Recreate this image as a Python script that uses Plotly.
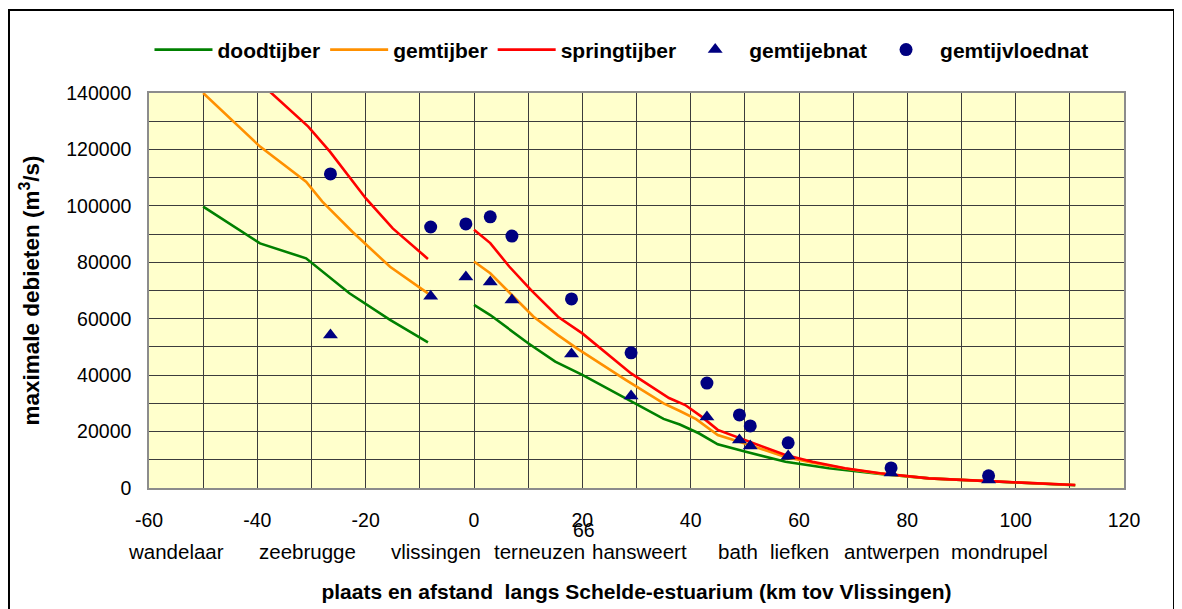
import plotly.graph_objects as go

# ---- data (km from Vlissingen, discharge m3/s)
dood_x = [-50, -39.5, -31, -23, -15.5, -8.5, None, 0, 3, 10, 15, 20, 29, 35, 38, 41.5, 45, 50, 57.5, 65.5, 75, 84, 97, 111]
dood_y = [99700, 86700, 81400, 69000, 59600, 51600, None, 64900, 61300, 51300, 44800, 40100, 30600, 24500, 22500, 19400, 15500, 12900, 9300, 7000, 5000, 3400, 2200, 1000]

gem_x = [-50, -39.5, -31, -28, -22.5, -15.5, -8.5, None, 0, 3, 7, 11, 15.5, 19, 28, 35, 38, 41, 45, 50, 57.5, 62.5, 68.5, 75, 84, 97, 111]
gem_y = [140000, 121000, 108600, 101500, 90900, 78400, 69000, None, 80300, 76100, 68400, 60700, 54200, 49500, 38300, 30000, 27300, 24400, 18800, 15800, 11000, 9000, 6900, 5100, 3400, 2200, 1050]

spring_x = [-40, -30.6, -26.6, -20, -15, -8.5, None, 0, 3, 6.5, 10.5, 15.5, 20, 29, 36, 39, 42, 45, 50, 54, 57.5, 62.5, 68.5, 75, 84, 97, 111]
spring_y = [144500, 128100, 119200, 102700, 92000, 81200, None, 91500, 86800, 78500, 70200, 60700, 54800, 40600, 31900, 29400, 25300, 20600, 17000, 14100, 11700, 9300, 7000, 5200, 3400, 2250, 1060]

meet_x = [-26.5, -8, -1.5, 3, 7, 18, 29, 43, 49, 51, 58, 77, 95]
ebb_y = [54200, 68000, 74800, 73000, 66600, 47500, 32600, 25200, 17000, 14900, 11300, 5300, 2800]
vloed_y = [111300, 92500, 93600, 96100, 89300, 67000, 47900, 37200, 25900, 22000, 16000, 7100, 4300]

x_ticks = list(range(-60, 121, 10))
x_ticktext = [str(v) if v % 20 == 0 else '' for v in x_ticks]
y_ticks = list(range(0, 140001, 10000))
y_ticktext = [str(v) if v % 20000 == 0 else '' for v in y_ticks]

stations = ['wandelaar', 'zeebrugge', 'vlissingen', 'terneuzen', 'hansweert', 'bath', 'liefken', 'antwerpen', 'mondrupel']
station_x = [-55, -30.7, -7, 12, 30.5, 48.8, 60, 77.2, 97]

FONT = 'Liberation Sans, Arial, sans-serif'

fig = go.Figure()
fig.add_trace(go.Scatter(x=dood_x, y=dood_y, mode='lines', name='doodtijber',
                         line=dict(color='#008000', width=2.6)))
fig.add_trace(go.Scatter(x=gem_x, y=gem_y, mode='lines', name='gemtijber',
                         line=dict(color='#FF9000', width=2.6)))
fig.add_trace(go.Scatter(x=spring_x, y=spring_y, mode='lines', name='springtijber',
                         line=dict(color='#FF0000', width=2.6)))
fig.add_trace(go.Scatter(x=meet_x, y=ebb_y, mode='markers', name='gemtijebnat',
                         marker=dict(symbol='triangle-up', size=13, color='#000080')))
fig.add_trace(go.Scatter(x=meet_x, y=vloed_y, mode='markers', name='gemtijvloednat',
                         marker=dict(symbol='circle', size=13, color='#000080')))

# station names under the tick labels
for name, sx in zip(stations, station_x):
    fig.add_annotation(x=sx, y=-0.1595, xref='x', yref='paper', text=name, showarrow=False,
                       font=dict(family=FONT, size=20.5, color='black'), yanchor='middle')
fig.add_annotation(x=20.3, y=-0.106, xref='x', yref='paper', text='66', showarrow=False,
                   font=dict(family=FONT, size=19.5, color='black'), yanchor='middle')

# outer frame
fig.add_shape(type='rect', xref='paper', yref='paper', x0=-0.1436, x1=1.0513, y0=-0.33, y1=1.2101,
              line=dict(color='black', width=2), layer='below')

# the page sits 8px in from the window corner, margins are corrected for that
fig.update_layout(
    width=1182, height=609,
    margin=dict(l=141, r=66, t=85, b=129),
    paper_bgcolor='white', plot_bgcolor='#FFFFCC',
    font=dict(family=FONT, size=19.5, color='black'),
    showlegend=True,
    legend=dict(orientation='h', x=0.4846, xanchor='center', y=1.109, yanchor='middle',
                font=dict(family=FONT, size=21, weight='bold'), itemwidth=58,
                bgcolor='rgba(0,0,0,0)'),
)
fig.update_xaxes(range=[-60, 120], tickvals=x_ticks, ticktext=x_ticktext,
                 showgrid=True, gridcolor='#3c3c3c', gridwidth=1, zeroline=False,
                 showline=True, linecolor='#8c8c8c', linewidth=1.5, mirror=True,
                 ticks='', ticklabelstandoff=14,
                 title=dict(text='<b>plaats en afstand  langs Schelde-estuarium (km tov Vlissingen)</b>',
                            font=dict(size=21), standoff=54))
fig.update_yaxes(range=[0, 140000], tickvals=y_ticks, ticktext=y_ticktext,
                 showgrid=True, gridcolor='#3c3c3c', gridwidth=1, zeroline=False,
                 showline=True, linecolor='#8c8c8c', linewidth=1.5, mirror=True,
                 ticks='', ticklabelstandoff=12,
                 title=dict(text='<b>maximale debieten (m<sup>3</sup>/s)</b>', font=dict(size=22.5), standoff=20))

fig.write_html('out.html')
